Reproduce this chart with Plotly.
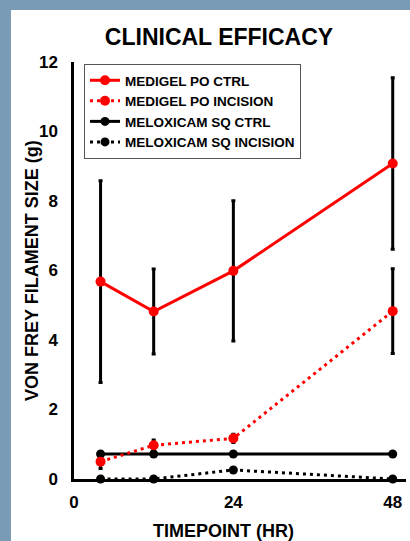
import plotly.graph_objects as go

# ---- data ----
timepoints = [4, 12, 24, 48]
medigel_ctrl = [5.68, 4.82, 5.99, 9.08]
medigel_ctrl_err = [2.90, 1.22, 2.02, 2.47]
medigel_inc = [0.50, 0.97, 1.17, 4.83]
medigel_inc_err = [0.20, 0.15, 0.12, 1.22]
melox_ctrl = [0.72, 0.72, 0.72, 0.72]
melox_inc = [0.0, 0.0, 0.26, 0.0]
x_ticks = [0, 24, 48]
y_ticks = [0, 2, 4, 6, 8, 10, 12]

FONT = "Liberation Sans, Arial, sans-serif"
RED = "#ff0000"
BLACK = "#000000"

W, H = 410, 541
L, R, T, B = 74, 4, 62, 62
PW, PH = W - L - R, H - T - B

fig = go.Figure()

# drawn in reverse so red is on top; legend reversed to keep original order
fig.add_trace(go.Scatter(
    x=timepoints, y=melox_inc, name="MELOXICAM SQ INCISION", mode="lines+markers",
    line=dict(color=BLACK, width=3, dash="3px,4px"), marker=dict(color=BLACK, size=9),
    cliponaxis=False))
fig.add_trace(go.Scatter(
    x=timepoints, y=melox_ctrl, name="MELOXICAM SQ CTRL", mode="lines+markers",
    line=dict(color=BLACK, width=3), marker=dict(color=BLACK, size=9),
    cliponaxis=False))
fig.add_trace(go.Scatter(
    x=timepoints, y=medigel_inc, name="MEDIGEL PO INCISION", mode="lines+markers",
    line=dict(color=RED, width=3, dash="3px,4px"), marker=dict(color=RED, size=10),
    error_y=dict(type="data", array=medigel_inc_err, visible=True,
                 color=BLACK, thickness=3, width=2),
    cliponaxis=False))
fig.add_trace(go.Scatter(
    x=timepoints, y=medigel_ctrl, name="MEDIGEL PO CTRL", mode="lines+markers",
    line=dict(color=RED, width=3), marker=dict(color=RED, size=10),
    error_y=dict(type="data", array=medigel_ctrl_err, visible=True,
                 color=BLACK, thickness=3, width=2),
    cliponaxis=False))

border = "#7a9bb6"
shapes = [
    dict(type="rect", xref="paper", yref="paper", x0=-L / PW, x1=(11 - L) / PW,
         y0=-B / PH, y1=1 + T / PH, fillcolor=border, line=dict(width=0), layer="below"),
    dict(type="rect", xref="paper", yref="paper", x0=-L / PW, x1=1 + R / PW,
         y0=1 + (T - 10) / PH, y1=1 + T / PH, fillcolor=border, line=dict(width=0), layer="below"),
]

annotations = [
    dict(text="<b>VON FREY FILAMENT SIZE (g)</b>", xref="paper", yref="paper",
         x=(32 - L) / PW, y=(H - B - 271) / PH, xanchor="center", yanchor="middle",
         textangle=-90, showarrow=False, font=dict(family=FONT, size=18, color=BLACK)),
    dict(text="<b>TIMEPOINT (HR)</b>", xref="paper", yref="paper",
         x=(223 - L) / PW, y=-(531 - (H - B)) / PH, xanchor="center", yanchor="middle",
         showarrow=False, font=dict(family=FONT, size=18, color=BLACK)),
]

fig.update_layout(
    width=W, height=H,
    margin=dict(l=L, r=R, t=T, b=B),
    paper_bgcolor="white", plot_bgcolor="white",
    title=dict(text="<b>CLINICAL EFFICACY</b>", x=219 / W, xanchor="center",
               y=1 - 37 / H, yanchor="middle", yref="container",
               font=dict(family=FONT, size=23, color=BLACK)),
    font=dict(family=FONT, color=BLACK),
    showlegend=True,
    legend=dict(x=10 / PW, y=1 - 2 / PH, xanchor="left", yanchor="top",
                traceorder="reversed", bgcolor="white", bordercolor="#555555",
                borderwidth=1, font=dict(family=FONT, size=13.5, color=BLACK, weight="bold"),
                tracegroupgap=0, itemwidth=30),
    shapes=shapes,
    annotations=annotations,
    xaxis=dict(range=[0, 50], tickvals=x_ticks, ticktext=[str(v) for v in x_ticks],
               showgrid=False, zeroline=False, showline=True, linecolor=BLACK,
               linewidth=2.5, ticks="", ticklabelstandoff=6,
               tickfont=dict(family=FONT, size=17, color=BLACK, weight="bold")),
    yaxis=dict(range=[0, 12], tickvals=y_ticks, ticktext=[str(v) for v in y_ticks],
               showgrid=False, zeroline=False, showline=True, linecolor=BLACK,
               linewidth=2.5, ticks="", ticklabelstandoff=10,
               tickfont=dict(family=FONT, size=17, color=BLACK, weight="bold")),
)

fig.write_html("out.html", config={"displayModeBar": False},
               post_script="document.body.style.margin='0';document.body.style.padding='0';")
